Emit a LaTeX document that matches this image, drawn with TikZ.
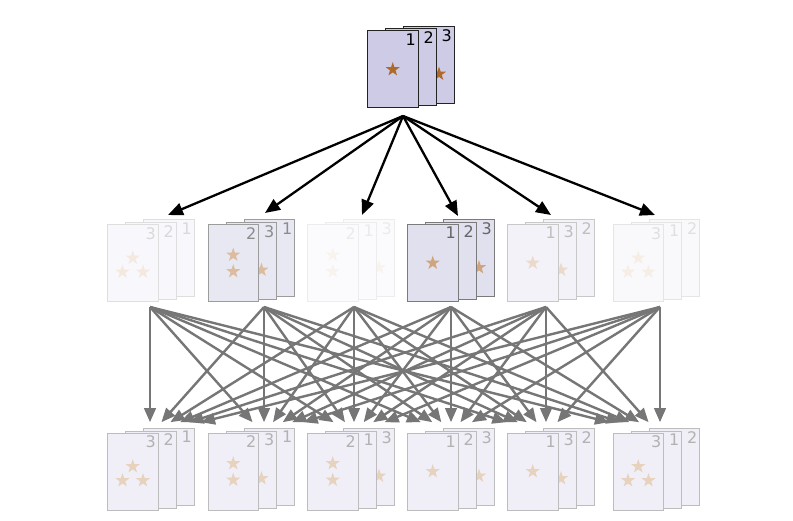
\documentclass[tikz,border=0pt]{standalone}
\usepackage{fontspec}
\setmainfont{DejaVu Sans}
\usetikzlibrary{arrows.meta,calc}
\definecolor{cardfill}{RGB}{205,203,229}
\definecolor{cardline}{RGB}{35,35,35}
\definecolor{starcol}{RGB}{176,106,40}
\definecolor{arrowgray}{RGB}{118,118,118}
\tikzset{
  blackarrow/.style={draw=black, line width=2.3pt, -{Triangle[length=15pt,width=12.5pt]}},
  grayarrow/.style={draw=arrowgray, line width=2.4pt, -{Triangle[length=14pt,width=11.5pt]}},
  numlabel/.style={anchor=north east, inner sep=0pt, font=\fontsize{16}{16}\selectfont}
}
\newcommand{\stargl}[3]{%
  \fill[starcol!#3!white] (#1,#2) +(-90:7.3) -- +(-54:2.9) -- +(-18:7.3) -- +(18:2.9) -- +(54:7.3) -- +(90:2.9) -- +(126:7.3) -- +(162:2.9) -- +(198:7.3) -- +(234:2.9) -- cycle;%
}
\newcommand{\onecard}[4]{%
  \filldraw[line width=1pt, draw=cardline!#3!white, fill=cardfill!#3!white] (#1,#2) rectangle ++(50.5,77);%
  \node[numlabel, text=black!#3!white] at ({#1+48.5},{#2+2.5}) {#4};%
  \ifcase#4\relax\or
    \stargl{#1+25.25}{#2+38.5}{#3}%
  \or
    \stargl{#1+25.25}{#2+30.5}{#3}\stargl{#1+25.25}{#2+47}{#3}%
  \or
    \stargl{#1+25.25}{#2+33.5}{#3}\stargl{#1+15}{#2+47.5}{#3}\stargl{#1+35.5}{#2+47.5}{#3}%
  \fi
}
\newcommand{\cardstack}[6]{%
  \onecard{#1+36}{#2-4.5}{#3}{#6}%
  \onecard{#1+18}{#2-2}{#3}{#5}%
  \onecard{#1}{#2}{#3}{#4}%
}
\begin{document}
\begin{tikzpicture}[x=1pt,y=-1pt]
\fill[white] (0,0) rectangle (793,521);
\useasboundingbox (0,0) rectangle (793,521);
% top stack
\cardstack{367.5}{31}{100}{1}{2}{3}
% middle row
\cardstack{107.5}{224.5}{15}{3}{2}{1}
\cardstack{208}{224.5}{45}{2}{3}{1}
\cardstack{307.5}{224.5}{8}{2}{1}{3}
\cardstack{407.5}{224.5}{60}{1}{2}{3}
\cardstack{507.5}{224.5}{25}{1}{3}{2}
\cardstack{613}{224.5}{12}{3}{1}{2}
% bottom row
\cardstack{107.5}{433}{30}{3}{2}{1}
\cardstack{208}{433}{30}{2}{3}{1}
\cardstack{307.5}{433}{30}{2}{1}{3}
\cardstack{407.5}{433}{30}{1}{2}{3}
\cardstack{507.5}{433}{30}{1}{3}{2}
\cardstack{613}{433}{30}{3}{1}{2}
% connector anchors
\coordinate (src) at (403,116);
\coordinate (m1) at (168,215);
\coordinate (m2) at (265,213);
\coordinate (m3) at (362,215);
\coordinate (m4) at (458,216);
\coordinate (m5) at (551,215);
\coordinate (m6) at (655,215);
\foreach \i/\x in {1/150,2/264,3/354,4/451,5/546,6/660} {
  \coordinate (s\i) at (\x,307);
  \coordinate (b\i) at (\x,435);
}
\foreach \i in {1,...,6} \draw[blackarrow] (src) -- (m\i);
\foreach \i in {1,...,6} {
  \foreach \j in {1,...,6} {
    \draw[grayarrow] (s\i) -- ($(s\i)!0.9!(b\j)$);
  }
}
\end{tikzpicture}
\end{document}
